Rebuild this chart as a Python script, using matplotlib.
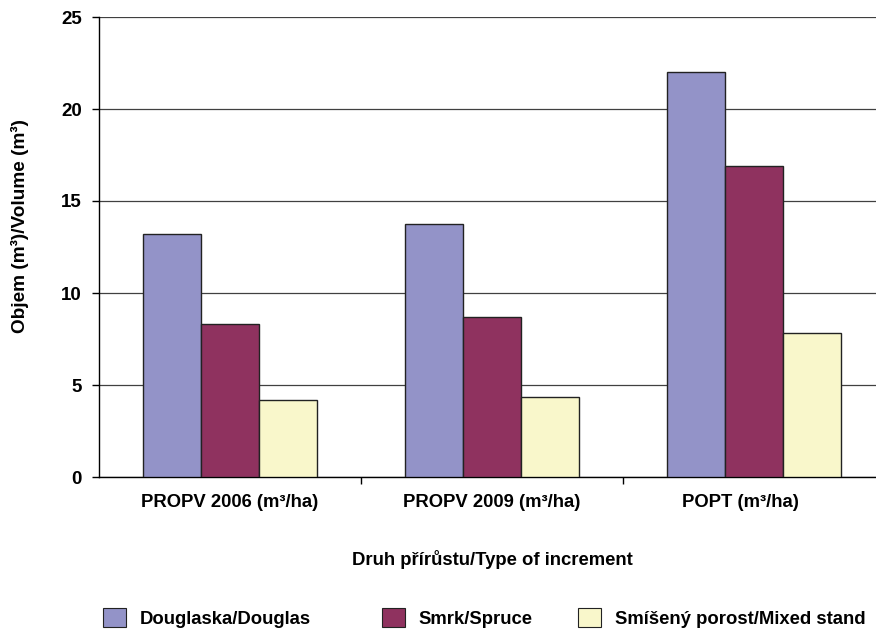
import numpy as np
import matplotlib.pyplot as plt
import matplotlib as mpl
from matplotlib.patches import Patch
from matplotlib.transforms import ScaledTranslation

mpl.rcParams.update({
    "font.family": ["Liberation Sans", "DejaVu Sans"],
    "font.weight": "bold",
})

# -------------------------- Data --------------------------
categories = ["PROPV 2006 (m³/ha)", "PROPV 2009 (m³/ha)", "POPT (m³/ha)"]
douglas = [13.2, 13.75, 22.0]
spruce  = [8.3, 8.7, 16.9]
mixed   = [4.2, 4.35, 7.85]
series_names = ["Douglaska/Douglas", "Smrk/Spruce", "Smíšený porost/Mixed stand"]
colors = ["#9393C8", "#8F325F", "#F9F7CB"]

FS = 13.3

# -------------------------- Figure ------------------------
fig = plt.figure(figsize=(8.76, 6.32), dpi=100)
ax = fig.add_axes([99/876, 155/632, 786/876, 460/632])

x = np.arange(len(categories))
w = 0.221
for i, (vals, col) in enumerate(zip([douglas, spruce, mixed], colors)):
    ax.bar(x + (i - 1)*w, vals, width=w, color=col, edgecolor="#222222",
           linewidth=1.0, zorder=3)

ax.set_xlim(-0.5, 2.5)
ax.set_ylim(0, 25)
ax.set_yticks([0, 5, 10, 15, 20, 25])
ax.yaxis.grid(True, color="#404040", linewidth=0.9, zorder=0)
ax.set_axisbelow(True)

for s in ("top", "right"):
    ax.spines[s].set_visible(False)
for s in ("left", "bottom"):
    ax.spines[s].set_color("black")
    ax.spines[s].set_linewidth(1.0)

ax.tick_params(axis="y", direction="out", length=5, width=1.0, pad=7.5,
               labelsize=13.5, colors="black")
ax.set_xticks(x)
ax.set_xticklabels(categories, fontsize=FS, fontweight="bold")
ax.tick_params(axis="x", which="major", length=0, pad=12)
ax.set_xticks([0.5, 1.5], minor=True)
ax.tick_params(axis="x", which="minor", direction="out", length=5, width=1.0)
for lab in ax.get_yticklabels():
    lab.set_fontweight("bold")

# last category label sits a little left of its bar group
lbl = ax.get_xticklabels()[2]
lbl.set_transform(lbl.get_transform() + ScaledTranslation(-14/100, 0, fig.dpi_scale_trans))

ax.set_ylabel("Objem (m³)/Volume (m³)", fontsize=13.7, fontweight="bold")
ax.yaxis.set_label_coords(-70/786, 0.546)
ax.set_xlabel("Druh přírůstu/Type of increment", fontsize=FS, fontweight="bold")
ax.xaxis.set_label_coords(0.5, -73/460)

# legend entries placed individually along the bottom
legend_x = [103, 382, 578]
for name, col, lx in zip(series_names, colors, legend_x):
    h = Patch(facecolor=col, edgecolor="#222222", linewidth=0.8)
    fig.legend([h], [name], loc="center left",
               bbox_to_anchor=(lx/876, 1 - 618/632), frameon=False,
               borderpad=0, borderaxespad=0, handlelength=1.24,
               handleheight=1.19, handletextpad=0.75,
               prop={"size": FS, "weight": "bold"})

fig.savefig("out.png", dpi=100)
